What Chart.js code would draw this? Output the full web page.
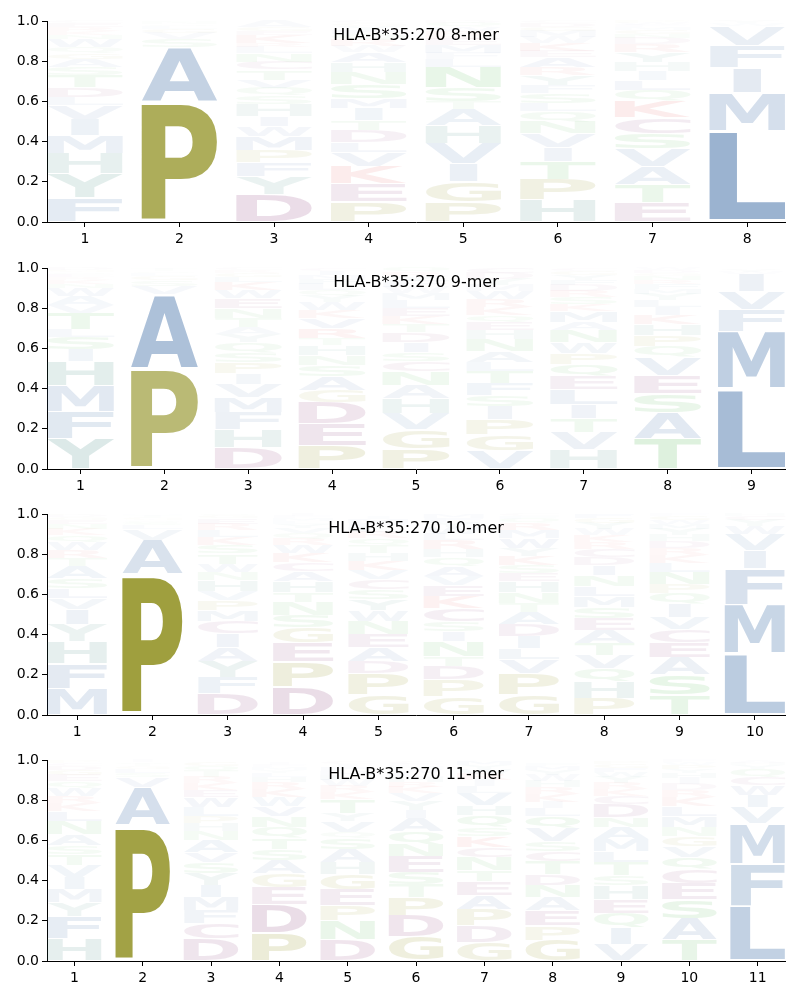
<!DOCTYPE html>
<html>
<head>
<meta charset="utf-8">
<script src="https://cdn.jsdelivr.net/npm/chart.js@4.4.1/dist/chart.umd.min.js"></script>
<style>
  body { margin: 0; background: #fff; width: 800px; height: 1000px; position: relative; overflow: hidden; }
  .panel { position: absolute; left: 0; width: 800px; height: 246px; }
</style>
</head>
<body>
<div class="panel" style="top:0px"><canvas id="logo8" width="800" height="246"></canvas></div>
<div class="panel" style="top:247px"><canvas id="logo9" width="800" height="246"></canvas></div>
<div class="panel" style="top:493px"><canvas id="logo10" width="800" height="246"></canvas></div>
<div class="panel" style="top:739px"><canvas id="logo11" width="800" height="246"></canvas></div>
<script>
// Sequence logos, HLA-B*35:270 binding motifs
// each column: letters listed bottom -> top, heights are probabilities

const yTicks = [0, 0.2, 0.4, 0.6, 0.8, 1.0];

const titles = ['HLA-B*35:270 8-mer', 'HLA-B*35:270 9-mer', 'HLA-B*35:270 10-mer', 'HLA-B*35:270 11-mer'];

const mer8Letters = [
    'FYHMIVLDTSAGQWNKREC',
    'PASVGLQNT',
    'DYFPMWIHSQVTCNLRKEGA',
    'PEKVLDTIMSNHAWRQFYGC',
    'PGIVHATSNLFMEKRWQD',
    'HPTIVNQLSFYRAEKWMGDC',
    'ETAVSCKQLIHYRDNGMFWP',
    'LMIFVWY'
];
const mer8Heights = [
    [0.12, 0.12, 0.10, 0.09, 0.08, 0.07, 0.04, 0.05, 0.06, 0.04, 0.04, 0.03, 0.03, 0.04, 0.02, 0.02, 0.02, 0.02, 0.01],
    [0.60, 0.27, 0.04, 0.03, 0.02, 0.015, 0.01, 0.01, 0.005],
    [0.137, 0.09, 0.07, 0.06, 0.07, 0.05, 0.05, 0.06, 0.04, 0.04, 0.04, 0.05, 0.04, 0.043, 0.03, 0.02, 0.04, 0.02, 0.02, 0.03],
    [0.10, 0.09, 0.085, 0.07, 0.05, 0.06, 0.05, 0.06, 0.05, 0.07, 0.06, 0.05, 0.05, 0.03, 0.03, 0.03, 0.02, 0.02, 0.015, 0.01],
    [0.10, 0.10, 0.09, 0.10, 0.09, 0.08, 0.04, 0.07, 0.10, 0.04, 0.03, 0.04, 0.03, 0.02, 0.02, 0.02, 0.02, 0.01],
    [0.11, 0.10, 0.09, 0.07, 0.07, 0.06, 0.05, 0.04, 0.05, 0.04, 0.05, 0.04, 0.05, 0.03, 0.04, 0.03, 0.03, 0.02, 0.02, 0.01],
    [0.095, 0.09, 0.09, 0.09, 0.075, 0.08, 0.08, 0.055, 0.05, 0.045, 0.045, 0.05, 0.04, 0.03, 0.02, 0.02, 0.015, 0.01, 0.01, 0.01],
    [0.455, 0.19, 0.125, 0.11, 0.095, 0.015, 0.01]
];

const mer9Letters = [
    'YFMHISLTVAWNKREQGD',
    'PAVSGLQTI',
    'DHFMVIPSQYATNEWKLGRC',
    'PEDGASNHTRVKWYQLFMIC',
    'PGVHANCSIDTKELMWFYRQ',
    'VGPISFTLANHEQKRWMYDC',
    'HVTILEQPWNAMKSRDFYGC',
    'TASEVQPHKILYMFRNGDW',
    'LMFVIWYAC'
];
const mer9Heights = [
    [0.15, 0.135, 0.13, 0.12, 0.06, 0.06, 0.04, 0.08, 0.04, 0.045, 0.04, 0.02, 0.02, 0.015, 0.015, 0.01, 0.01, 0.01],
    [0.50, 0.37, 0.04, 0.03, 0.02, 0.015, 0.01, 0.01, 0.005],
    [0.105, 0.09, 0.085, 0.075, 0.065, 0.055, 0.055, 0.05, 0.05, 0.04, 0.035, 0.045, 0.05, 0.05, 0.04, 0.04, 0.025, 0.02, 0.015, 0.01],
    [0.115, 0.11, 0.105, 0.06, 0.07, 0.055, 0.05, 0.05, 0.035, 0.05, 0.05, 0.04, 0.04, 0.03, 0.03, 0.03, 0.025, 0.02, 0.02, 0.015],
    [0.10, 0.095, 0.08, 0.075, 0.065, 0.07, 0.05, 0.045, 0.05, 0.05, 0.04, 0.04, 0.04, 0.04, 0.035, 0.03, 0.03, 0.025, 0.02, 0.02],
    [0.09, 0.08, 0.075, 0.065, 0.055, 0.06, 0.06, 0.045, 0.055, 0.06, 0.045, 0.04, 0.035, 0.04, 0.04, 0.04, 0.03, 0.03, 0.03, 0.025],
    [0.095, 0.085, 0.07, 0.07, 0.075, 0.065, 0.06, 0.055, 0.055, 0.06, 0.04, 0.055, 0.035, 0.035, 0.03, 0.03, 0.025, 0.025, 0.02, 0.015],
    [0.15, 0.13, 0.095, 0.09, 0.09, 0.055, 0.055, 0.055, 0.045, 0.04, 0.035, 0.03, 0.025, 0.025, 0.02, 0.02, 0.015, 0.015, 0.01],
    [0.40, 0.285, 0.11, 0.09, 0.085, 0.01, 0.01, 0.005, 0.005]
];

const mer10Letters = [
    'MFHYIVLSATRWQKNEGDP',
    'PAVLSQGTIM',
    'DFYAICMPVHNWTSKLREGQ',
    'DPEGSNTHACKWRQVYLMFI',
    'GPDAENWYSCVKHTQRLFMI',
    'GPDTNISCKEVAQHRLWYFM',
    'GPVLIDATNHESKYWMRQFC',
    'PHQVTAESMLNIDCRKWYGF',
    'TSAECVIQPNLKRDHYMWGF',
    'LMFIVWYCH'
];
const mer10Heights = [
    [0.13, 0.125, 0.11, 0.085, 0.075, 0.055, 0.05, 0.05, 0.06, 0.04, 0.04, 0.04, 0.035, 0.03, 0.025, 0.02, 0.015, 0.01, 0.005],
    [0.70, 0.17, 0.055, 0.02, 0.015, 0.01, 0.01, 0.01, 0.005, 0.005],
    [0.107, 0.08, 0.08, 0.07, 0.07, 0.06, 0.055, 0.05, 0.045, 0.055, 0.04, 0.04, 0.05, 0.045, 0.04, 0.035, 0.03, 0.025, 0.015, 0.01],
    [0.14, 0.125, 0.095, 0.075, 0.06, 0.065, 0.05, 0.055, 0.05, 0.045, 0.045, 0.04, 0.03, 0.03, 0.025, 0.02, 0.015, 0.015, 0.01, 0.01],
    [0.10, 0.105, 0.06, 0.07, 0.065, 0.065, 0.055, 0.055, 0.05, 0.05, 0.045, 0.045, 0.04, 0.04, 0.035, 0.03, 0.025, 0.02, 0.02, 0.015],
    [0.09, 0.085, 0.065, 0.05, 0.075, 0.05, 0.05, 0.065, 0.06, 0.055, 0.045, 0.05, 0.045, 0.04, 0.045, 0.03, 0.035, 0.025, 0.02, 0.02],
    [0.10, 0.105, 0.07, 0.055, 0.06, 0.06, 0.06, 0.045, 0.055, 0.055, 0.04, 0.04, 0.045, 0.04, 0.05, 0.04, 0.035, 0.02, 0.015, 0.01],
    [0.085, 0.08, 0.065, 0.065, 0.06, 0.065, 0.06, 0.055, 0.055, 0.05, 0.055, 0.05, 0.04, 0.04, 0.035, 0.035, 0.03, 0.03, 0.025, 0.02],
    [0.10, 0.10, 0.085, 0.075, 0.065, 0.06, 0.065, 0.055, 0.045, 0.06, 0.045, 0.04, 0.035, 0.035, 0.03, 0.03, 0.025, 0.02, 0.02, 0.01],
    [0.305, 0.245, 0.18, 0.09, 0.08, 0.04, 0.03, 0.02, 0.01]
];

const mer11Letters = [
    'HFYMIVTSANLKRWQEGDCP',
    'PAVSLGTQI',
    'DCFMIYSVANHPLWEKRTQG',
    'PDEGASTQNVWKRHLYMFIC',
    'DNPEGHASQVYTKRWLMFIC',
    'GDPTSENQAIYVKRHLWMFC',
    'GDPAETNCKSQHVLIRWYMF',
    'GPEANDTCSVQLIKRHWYMF',
    'VIQEHSTLMANDCKRYWFGP',
    'TASECQVGNMLKRDIHYPWF',
    'LFMVIWCQYHAG'
];
const mer11Heights = [
    [0.11, 0.11, 0.07, 0.065, 0.06, 0.06, 0.055, 0.045, 0.055, 0.065, 0.05, 0.04, 0.035, 0.04, 0.035, 0.03, 0.025, 0.02, 0.015, 0.01],
    [0.675, 0.19, 0.05, 0.02, 0.02, 0.015, 0.01, 0.01, 0.01],
    [0.11, 0.075, 0.065, 0.065, 0.06, 0.06, 0.055, 0.05, 0.06, 0.045, 0.04, 0.035, 0.045, 0.05, 0.035, 0.035, 0.03, 0.03, 0.025, 0.02],
    [0.14, 0.14, 0.085, 0.07, 0.065, 0.055, 0.055, 0.055, 0.055, 0.05, 0.045, 0.04, 0.035, 0.025, 0.02, 0.015, 0.015, 0.01, 0.01, 0.005],
    [0.105, 0.095, 0.075, 0.08, 0.075, 0.06, 0.065, 0.055, 0.03, 0.055, 0.04, 0.07, 0.035, 0.03, 0.03, 0.025, 0.02, 0.02, 0.015, 0.01],
    [0.12, 0.105, 0.09, 0.065, 0.06, 0.08, 0.06, 0.065, 0.065, 0.04, 0.045, 0.04, 0.03, 0.025, 0.025, 0.02, 0.02, 0.015, 0.01, 0.01],
    [0.095, 0.08, 0.08, 0.07, 0.07, 0.055, 0.065, 0.05, 0.055, 0.045, 0.06, 0.05, 0.06, 0.035, 0.03, 0.03, 0.025, 0.02, 0.02, 0.005],
    [0.105, 0.07, 0.075, 0.065, 0.06, 0.055, 0.065, 0.05, 0.05, 0.065, 0.06, 0.04, 0.03, 0.04, 0.035, 0.03, 0.03, 0.025, 0.02, 0.015],
    [0.085, 0.08, 0.07, 0.07, 0.07, 0.05, 0.065, 0.055, 0.06, 0.06, 0.05, 0.065, 0.04, 0.035, 0.03, 0.03, 0.025, 0.02, 0.02, 0.015],
    [0.105, 0.105, 0.095, 0.08, 0.07, 0.06, 0.055, 0.05, 0.045, 0.055, 0.05, 0.045, 0.035, 0.03, 0.03, 0.025, 0.02, 0.02, 0.015, 0.01],
    [0.275, 0.21, 0.20, 0.08, 0.06, 0.05, 0.04, 0.04, 0.02, 0.01, 0.01, 0.005]
];

// residue colour groups (rgb), opacity follows letter height
const groupColors = [
    ['AVLIMFW', [50, 100, 160]],
    ['HY', [40, 120, 110]],
    ['PG', [128, 128, 0]],
    ['DEC', [120, 30, 100]],
    ['KR', [220, 40, 40]],
    ['STNQ', [50, 170, 50]]
];

function letterColor(ch, h) {
    let rgb = [120, 120, 120];
    groupColors.forEach(function(g) { if (g[0].indexOf(ch) >= 0) rgb = g[1]; });
    const a = Math.min(1, 1.08 * h);
    return 'rgba(' + rgb[0] + ',' + rgb[1] + ',' + rgb[2] + ',' + a.toFixed(3) + ')';
}

const glyphFont = 'bold 200px "DejaVu Sans"';
const glyphCache = {};
function glyphBox(ctx, ch) {
    if (!glyphCache[ch]) {
        ctx.font = glyphFont;
        const m = ctx.measureText(ch);
        glyphCache[ch] = {
            left: m.actualBoundingBoxLeft,
            w: m.actualBoundingBoxLeft + m.actualBoundingBoxRight,
            asc: m.actualBoundingBoxAscent,
            h: m.actualBoundingBoxAscent + m.actualBoundingBoxDescent
        };
    }
    return glyphCache[ch];
}

// stretch a glyph into the box, never wider-stretched than 'E'
function drawGlyph(ctx, ch, x0, boxW, yTop, boxH, color) {
    const g = glyphBox(ctx, ch);
    const e = glyphBox(ctx, 'E');
    const sx = Math.min(boxW / g.w, boxW / e.w);
    const sy = boxH / g.h;
    const left = x0 + (boxW - g.w * sx) / 2;
    ctx.save();
    ctx.translate(left, yTop);
    ctx.scale(sx, sy);
    ctx.font = glyphFont;
    ctx.textAlign = 'left';
    ctx.textBaseline = 'alphabetic';
    ctx.fillStyle = color;
    ctx.fillText(ch, g.left, g.asc);
    ctx.restore();
}

const logoPlugin = {
    id: 'logoLetters',
    afterDatasetsDraw(chart) {
        const opts = chart.options.plugins.logoLetters;
        const ctx = chart.ctx;
        chart.data.datasets.forEach(function(ds, k) {
            const meta = chart.getDatasetMeta(k);
            meta.data.forEach(function(bar, i) {
                const ch = opts.letters[i][k];
                const h = opts.heights[i][k];
                if (!ch || !h) return;
                const p = bar.getProps(['x', 'y', 'base', 'width'], true);
                const full = p.base - p.y;
                const pad = full * 0.025;
                drawGlyph(ctx, ch, p.x - p.width / 2, p.width, p.y + pad, full - 2 * pad, letterColor(ch, h));
            });
        });
        const area = chart.chartArea;
        ctx.save();
        ctx.font = '16px "DejaVu Sans"';
        ctx.fillStyle = '#000';
        ctx.textAlign = 'center';
        ctx.textBaseline = 'middle';
        ctx.fillText(opts.title, (area.left + area.right) / 2, area.top + 15);
        ctx.restore();
    }
};

Chart.defaults.font.family = '"DejaVu Sans"';
Chart.defaults.font.size = 14;
Chart.defaults.color = '#000';

function makeLogo(canvasId, title, letters, heights) {
    const positions = letters.map(function(_, i) { return i + 1; });
    let layers = 0;
    letters.forEach(function(col) { layers = Math.max(layers, col.length); });
    const datasets = [];
    for (let k = 0; k < layers; k++) {
        datasets.push({
            data: positions.map(function(pos, i) { return { x: pos, y: heights[i][k] || 0 }; }),
            backgroundColor: 'rgba(0,0,0,0)',
            borderWidth: 0,
            categoryPercentage: 1.0,
            barPercentage: 0.8
        });
    }
    new Chart(document.getElementById(canvasId), {
        type: 'bar',
        data: { datasets: datasets },
        options: {
            responsive: false,
            animation: false,
            events: [],
            layout: { padding: { left: 0, right: 15, top: 21, bottom: 0 } },
            plugins: {
                legend: { display: false },
                tooltip: { enabled: false },
                logoLetters: { letters: letters, heights: heights, title: title }
            },
            scales: {
                x: {
                    type: 'linear',
                    stacked: true,
                    offset: false,
                    min: 0.6,
                    max: positions.length + 0.4,
                    afterBuildTicks: function(s) { s.ticks = positions.map(function(v) { return { value: v }; }); },
                    afterFit: function(s) { s.height = 24; },
                    ticks: { padding: 4, maxRotation: 0, autoSkip: false, callback: function(v) { return String(v); } },
                    grid: { offset: false, drawOnChartArea: false, drawTicks: true, tickLength: 5, color: '#000', lineWidth: 1 },
                    border: { display: true, color: '#000', width: 1 }
                },
                y: {
                    stacked: true,
                    min: 0,
                    max: 1,
                    afterBuildTicks: function(s) { s.ticks = yTicks.map(function(v) { return { value: v }; }); },
                    afterFit: function(s) { s.width = 47; },
                    ticks: { padding: 3, callback: function(v) { return Number(v).toFixed(1); } },
                    grid: { drawOnChartArea: false, drawTicks: true, tickLength: 5, color: '#000', lineWidth: 1 },
                    border: { display: true, color: '#000', width: 1 }
                }
            }
        },
        plugins: [logoPlugin]
    });
}

makeLogo('logo8', titles[0], mer8Letters, mer8Heights);
makeLogo('logo9', titles[1], mer9Letters, mer9Heights);
makeLogo('logo10', titles[2], mer10Letters, mer10Heights);
makeLogo('logo11', titles[3], mer11Letters, mer11Heights);
</script>
</body>
</html>
